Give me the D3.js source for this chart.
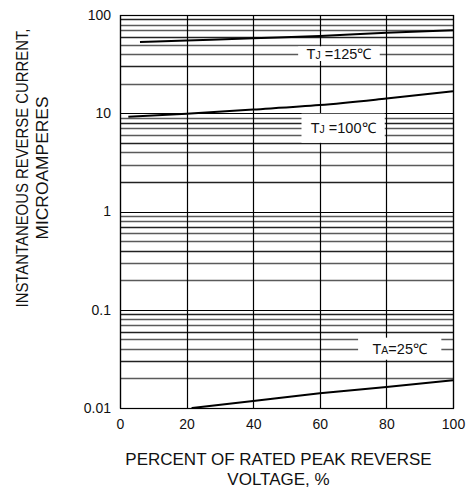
<!DOCTYPE html>
<html>
<head>
<meta charset="utf-8">
<script src="https://cdn.jsdelivr.net/npm/d3@7"></script>
<style>
  body { margin: 0; background: #fff; }
  svg { display: block; font-family: "Liberation Sans", Arial, sans-serif; }
</style>
</head>
<body>
<svg id="chart" width="474" height="490"></svg>
<script>
// ---- data ----
const xTicks = [0, 20, 40, 60, 80, 100];
const yTicks = [0.01, 0.1, 1, 10, 100];
const yTickLabels = ["0.01", "0.1", "1", "10", "100"];

const tj125X = [6, 20, 40, 60, 80, 100];
const tj125Y = [53, 55, 58, 61, 66, 70];

const tj100X = [2.5, 20, 40, 60, 80, 100];
const tj100Y = [9.2, 9.9, 10.9, 12.1, 14.1, 16.7];

const ta25X = [21.5, 40, 60, 80, 100];
const ta25Y = [0.0100, 0.0118, 0.0141, 0.0164, 0.0192];

const curveLabels = [
  { main: "T", sub: "J", rest: " =125℃" },
  { main: "T", sub: "J", rest: " =100℃" },
  { main: "T", sub: "A", rest: "=25℃" }
];

const svg = d3.select("#chart");
const width = +svg.attr("width"), height = +svg.attr("height");
const margin = { top: 15, right: 21, bottom: 82, left: 120 };
const iw = width - margin.left - margin.right;
const ih = height - margin.top - margin.bottom;

const x = d3.scaleLinear().domain([0, 100]).range([0, iw]);
const y = d3.scaleLog().domain([0.01, 100]).range([ih, 0]);

const g = svg.append("g")
  .attr("transform", `translate(${margin.left},${margin.top})`);

// minor horizontal grid (2..9 in each decade)
const minor = [];
[0.01, 0.1, 1, 10].forEach(d => {
  for (let k = 2; k <= 9; k++) minor.push(d * k);
});

g.append("g").selectAll("line")
  .data(minor)
  .enter().append("line")
    .attr("x1", 0).attr("x2", iw)
    .attr("y1", d => Math.round(y(d)) + 0.5)
    .attr("y2", d => Math.round(y(d)) + 0.5)
    .attr("stroke", (d, i) => i % 3 === 1 ? "#222" : "#5a5a5a")
    .attr("stroke-width", 1.3);

// major horizontal grid
g.append("g").selectAll("line")
  .data(yTicks)
  .enter().append("line")
    .attr("x1", 0).attr("x2", iw)
    .attr("y1", d => Math.round(y(d)) + 0.5)
    .attr("y2", d => Math.round(y(d)) + 0.5)
    .attr("stroke", "#000")
    .attr("stroke-width", 1.2);

// vertical grid
g.append("g").selectAll("line")
  .data(xTicks)
  .enter().append("line")
    .attr("y1", 0).attr("y2", ih)
    .attr("x1", d => Math.round(x(d)) + 0.5)
    .attr("x2", d => Math.round(x(d)) + 0.5)
    .attr("stroke", "#000")
    .attr("stroke-width", 1.2);

// white label boxes that break the grid
const boxes = [
  { x0: 53.5, x1: 78, y0: 48, y1: 34 },
  { x0: 54.5, x1: 79.5, y0: 9.9, y1: 5.0 },
  { x0: 71.5, x1: 96.5, y0: 0.052, y1: 0.031 }
];
g.append("g").selectAll("rect")
  .data(boxes)
  .enter().append("rect")
    .attr("x", d => x(d.x0))
    .attr("width", d => x(d.x1) - x(d.x0))
    .attr("y", d => y(d.y0))
    .attr("height", d => y(d.y1) - y(d.y0))
    .attr("fill", "#fff");

// border
g.append("rect")
  .attr("x", 0.5).attr("y", 0.5)
  .attr("width", iw).attr("height", ih)
  .attr("fill", "none")
  .attr("stroke", "#000")
  .attr("stroke-width", 1.2);

// curves
const line = d3.line()
  .x(d => x(d[0]))
  .y(d => y(d[1]))
  .curve(d3.curveMonotoneX);

[[tj125X, tj125Y], [tj100X, tj100Y], [ta25X, ta25Y]].forEach(([xs, ys]) => {
  g.append("path")
    .datum(xs.map((v, i) => [v, ys[i]]))
    .attr("d", line)
    .attr("fill", "none")
    .attr("stroke", "#000")
    .attr("stroke-width", 2);
});

// curve labels
const lbl = g.append("g").selectAll("text")
  .data(curveLabels)
  .enter().append("text")
    .attr("x", (d, i) => x(boxes[i].x0 + (boxes[i].x1 - boxes[i].x0) / 2))
    .attr("y", (d, i) => (y(boxes[i].y0) + y(boxes[i].y1)) / 2 + 5)
    .attr("text-anchor", "middle")
    .style("font-size", "14.5px")
    .attr("fill", "#111");
lbl.append("tspan").text(d => d.main);
lbl.append("tspan").text(d => d.sub)
  .style("font-size", "10.5px");
lbl.append("tspan").text(d => d.rest);

// axes
const xAxis = d3.axisBottom(x).tickValues(xTicks).tickSize(0).tickPadding(11);
const yAxis = d3.axisLeft(y).tickValues(yTicks).tickSize(0).tickPadding(9)
  .tickFormat((d, i) => yTickLabels[i]);

const xa = g.append("g").attr("transform", `translate(0,${ih})`).call(xAxis);
const ya = g.append("g").call(yAxis);
[xa, ya].forEach(a => {
  a.select(".domain").remove();
  a.selectAll("text")
    .style("font-size", "14px")
    .style("font-family", "'Liberation Sans', Arial, sans-serif")
    .attr("fill", "#111");
});

// axis titles
svg.append("text")
  .attr("text-anchor", "middle")
  .style("font-size", "17px")
  .attr("fill", "#111")
  .selectAll("tspan")
  .data(["PERCENT OF RATED PEAK REVERSE", "VOLTAGE, %"])
  .enter().append("tspan")
    .attr("x", margin.left + iw / 2 - 8)
    .attr("y", (d, i) => i === 0 ? 465 : 485)
    .text(d => d);

const yt = svg.append("g")
  .attr("transform", "translate(0,168) rotate(-90)");
yt.append("text")
  .attr("x", 0).attr("y", 28)
  .attr("text-anchor", "middle")
  .style("font-size", "16px")
  .attr("fill", "#111")
  .attr("textLength", 279)
  .attr("lengthAdjust", "spacingAndGlyphs")
  .text("INSTANTANEOUS REVERSE CURRENT,");
yt.append("text")
  .attr("x", 0).attr("y", 48)
  .attr("text-anchor", "middle")
  .style("font-size", "16px")
  .attr("fill", "#111")
  .attr("textLength", 143)
  .attr("lengthAdjust", "spacingAndGlyphs")
  .text("MICROAMPERES");
</script>
</body>
</html>
